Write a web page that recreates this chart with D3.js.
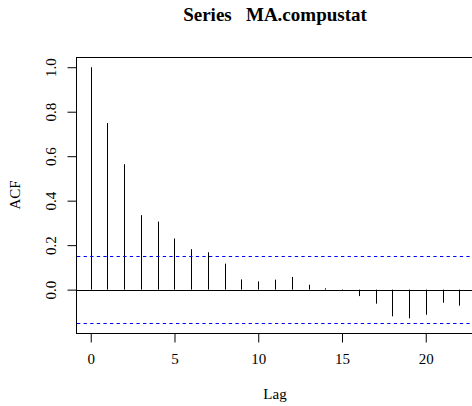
<!DOCTYPE html>
<html lang="en">
<head>
<meta charset="utf-8">
<title>Series MA.compustat</title>
<script src="https://cdn.jsdelivr.net/npm/d3@7"></script>
<style>
  body { margin: 0; background: #fff; }
  text { font-family: "Liberation Serif", "DejaVu Serif", serif; fill: #000; }
</style>
</head>
<body>
<script>
// autocorrelations, lag 0..22
var lags = d3.range(0, 23);
var acf = [1.0, 0.749, 0.564, 0.335, 0.306, 0.230, 0.182, 0.168, 0.117, 0.046,
           0.037, 0.045, 0.057, 0.022, 0.006, 0.002, -0.029, -0.063, -0.120,
           -0.129, -0.113, -0.059, -0.072];
var ci = 0.149;
var xTicks = [0, 5, 10, 15, 20];
var yTicks = [0.0, 0.2, 0.4, 0.6, 0.8, 1.0];

var w = 472, h = 406;
var m = { left: 76, right: 474, top: 57, bottom: 333 };

var svg = d3.select("body").append("svg")
    .attr("width", w)
    .attr("height", h);

// R style 4% padding on both axes
var xScale = d3.scaleLinear()
    .domain([-0.88, 22.88])
    .range([m.left, m.right]);

var ymin = -ci, ymax = 1;
var pad = (ymax - ymin) * 0.04;
var yScale = d3.scaleLinear()
    .domain([ymin - pad, ymax + pad])
    .range([m.bottom, m.top]);

var px = function(v) { return Math.round(v) + 0.5; };

// bars
svg.selectAll("line.bar")
  .data(lags)
  .enter()
  .append("line")
  .attr("class", "bar")
  .attr("x1", function(d) { return px(xScale(d)); })
  .attr("x2", function(d) { return px(xScale(d)); })
  .attr("y1", yScale(0))
  .attr("y2", function(d) { return yScale(acf[d]); })
  .attr("stroke", "#000")
  .attr("stroke-width", 1);

// zero line
svg.append("line")
  .attr("x1", m.left).attr("x2", m.right)
  .attr("y1", px(yScale(0))).attr("y2", px(yScale(0)))
  .attr("stroke", "#000");

// confidence bounds
svg.selectAll("line.ci")
  .data([ci, -ci])
  .enter()
  .append("line")
  .attr("class", "ci")
  .attr("x1", m.left + 1).attr("x2", m.right)
  .attr("y1", function(d) { return px(yScale(d)); })
  .attr("y2", function(d) { return px(yScale(d)); })
  .attr("stroke", "#0000ff")
  .attr("stroke-dasharray", "3.3,3.3");

// box
svg.append("rect")
  .attr("x", m.left + 0.5).attr("y", m.top + 0.5)
  .attr("width", m.right - m.left).attr("height", m.bottom - m.top)
  .attr("fill", "none")
  .attr("stroke", "#000");

// axes
var xAxis = d3.axisBottom(xScale)
  .tickValues(xTicks)
  .tickSize(9)
  .tickPadding(11)
  .tickSizeOuter(0);

var gx = svg.append("g")
  .attr("transform", "translate(0," + (m.bottom + 0.5) + ")")
  .call(xAxis);
gx.attr("font-family", null).attr("font-size", null);
gx.select(".domain")
  .attr("d", "M" + xScale(0) + ",0H" + xScale(20));
gx.selectAll("text")
  .style("font-size", "15px");

var yAxis = d3.axisLeft(yScale)
  .tickValues(yTicks)
  .tickSize(9)
  .tickFormat(d3.format(".1f"))
  .tickSizeOuter(0);

var gy = svg.append("g")
  .attr("transform", "translate(" + (m.left + 0.5) + ",0)")
  .call(yAxis);
gy.attr("font-family", null).attr("font-size", null);
gy.select(".domain")
  .attr("d", "M0," + yScale(0) + "V" + yScale(1));
gy.selectAll(".tick text")
  .attr("x", null)
  .attr("text-anchor", "middle")
  .attr("transform", "translate(-26,0) rotate(-90)")
  .attr("dy", "0.35em")
  .style("font-size", "15px");

// labels
svg.append("text")
  .attr("x", (m.left + m.right) / 2)
  .attr("y", 21)
  .attr("text-anchor", "middle")
  .style("font-size", "19px")
  .style("font-weight", "bold")
  .style("white-space", "pre")
  .text("Series   MA.compustat");

svg.append("text")
  .attr("x", (m.left + m.right) / 2)
  .attr("y", 399)
  .attr("text-anchor", "middle")
  .style("font-size", "15px")
  .text("Lag");

svg.append("text")
  .attr("transform", "translate(20," + ((m.top + m.bottom) / 2) + ") rotate(-90)")
  .attr("text-anchor", "middle")
  .style("font-size", "15px")
  .text("ACF");
</script>
</body>
</html>
